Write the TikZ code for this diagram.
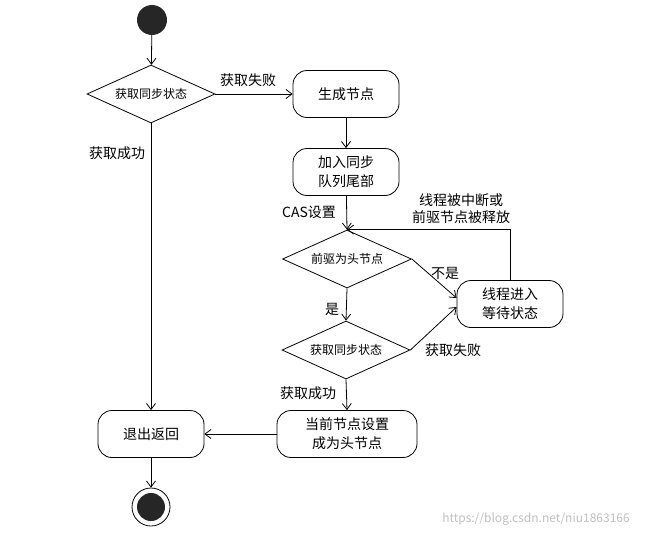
\documentclass[tikz,border=0pt]{standalone}
\usepackage{fontspec}
\setmainfont{Noto Sans CJK SC}
\usetikzlibrary{shapes.geometric,arrows.meta}

\begin{document}
\begin{tikzpicture}[x=1pt, y=-1pt, >={Straight Barb[length=6pt,width=9pt]},
  act/.style={shape=rectangle, rounded corners=14pt, draw=black, thick, minimum width=106pt, minimum height=47pt, align=center, font=\fontsize{14}{19}\selectfont},
  test/.style={shape=diamond, draw=black, thick, shape aspect=2.2, inner sep=0pt, minimum width=128pt, minimum height=58pt, font=\fontsize{12}{14}\selectfont},
  lbl/.style={align=center, font=\fontsize{14}{17}\selectfont},
  flow/.style={->, thick}]
\useasboundingbox (0,0) rectangle (650,538);
\node[shape=circle, fill=black!85, minimum size=30pt, inner sep=0pt] (start) at (152,20) {};
\node[test] (try1) at (151,94) {获取同步状态};
\node[act] (make) at (346,94) {生成节点};
\node[act] (tail) at (346,172) {加入同步\\队列尾部};
\node[test, minimum width=129pt] (head) at (347,259) {前驱为头节点};
\node[test] (try2) at (346,350) {获取同步状态};
\node[act] (wait) at (510,304) {线程进入\\等待状态};
\node[act, minimum width=140pt] (sethead) at (347,434) {当前节点设置\\成为头节点};
\node[act] (exit) at (151,434) {退出返回};
\node[shape=circle, draw=black, thick, minimum size=38pt, inner sep=0pt] (stop) at (151,507) {};
\node[shape=circle, fill=black!85, minimum size=28pt, inner sep=0pt] (stopdot) at (151,507) {};
\node[lbl] (fail1) at (248,80) {获取失败};
\node[lbl] (ok1) at (117,153) {获取成功};
\node[lbl] (cas) at (309,212) {CAS设置};
\node[lbl] (wake) at (461,209) {线程被中断或\\前驱节点被释放};
\node[lbl] (no) at (445,273) {不是};
\node[lbl] (yes) at (332,309) {是};
\node[lbl] (fail2) at (453,350) {获取失败};
\node[lbl] (ok2) at (308,393) {获取成功};
\node[text=black!25, font=\fontsize{12}{14}\selectfont] (mark) at (536,519) {https://blog.csdn.net/niu1863166};
\path[flow] (start) edge (try1);
\path[flow] (try1.east) edge (make.west);
\path[flow] (try1.south) edge (exit.north);
\path[flow] (make) edge (tail);
\path[flow] (tail) edge (head.north);
\path[flow] (head.east) edge ([yshift=6pt]wait.west);
\path[flow] (try2.east) edge ([yshift=-3pt]wait.west);
\path[flow] (head.south) edge (try2.north);
\path[flow] (try2.south) edge (sethead.north);
\path[flow] (sethead.west) edge (exit.east);
\path[flow] (exit.south) edge (stop.north);
\draw[flow] (wait.north) |- (head.north);
\end{tikzpicture}
\end{document}
